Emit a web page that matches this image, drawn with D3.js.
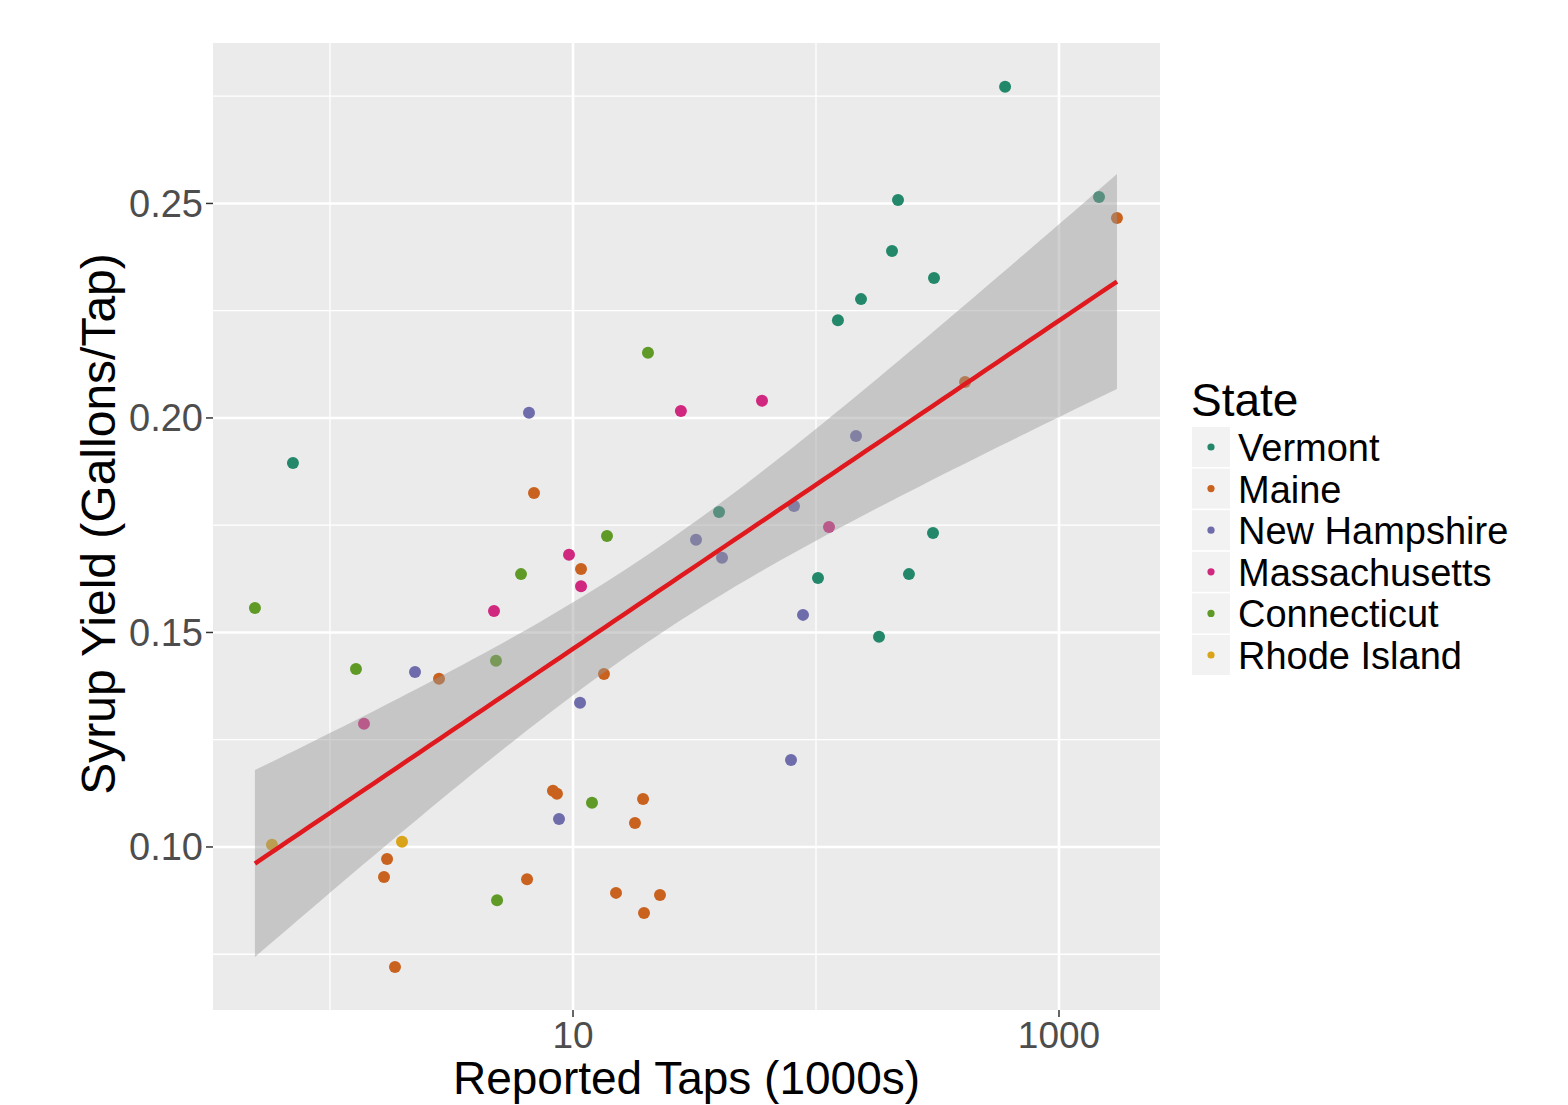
<!DOCTYPE html>
<html><head><meta charset="utf-8">
<script src="https://cdn.jsdelivr.net/npm/d3@7"></script>
<style>body{margin:0;background:#fff}svg{display:block}text{font-family:"Liberation Sans",Arial,sans-serif}</style>
</head><body>
<svg id="c" width="1568" height="1105"></svg>
<script>
// ---- data (Reported taps in 1000s, syrup yield gallons/tap) ----
const states = ["Vermont","Maine","New Hampshire","Massachusetts","Connecticut","Rhode Island"];
const colors = ["#23876a","#c9621f","#6f6cab","#d1287f","#5f9a26","#d9a31a"];
const vermontTaps  = [600,0.704,217.5,1461,205.5,305.9,153.2,123.1,39.9,303,101.9,241.3,181.7];
const vermontYield = [0.2772,0.1895,0.2508,0.2515,0.2389,0.2326,0.2277,0.2228,0.1781,0.1732,0.1627,0.1636,0.1490];
const maineTaps  = [1732,410.6,6.91,10.79,2.81,13.41,8.27,8.59,19.42,17.99,1.717,1.668,6.47,15.03,22.80,19.60,1.851];
const maineYield = [0.2466,0.2084,0.1825,0.1648,0.1392,0.1403,0.1131,0.1124,0.1112,0.1056,0.0972,0.0930,0.0925,0.0893,0.0888,0.0846,0.0720];
const nhTaps  = [6.59,146.1,81.2,32.08,41.04,88.4,2.238,10.69,78.9,8.76];
const nhYield = [0.2012,0.1958,0.1795,0.1716,0.1674,0.1541,0.1408,0.1336,0.1203,0.1065];
const maTaps  = [27.8,59.95,9.63,10.79,113.1,4.73,1.380];
const maYield = [0.2016,0.2040,0.1681,0.1608,0.1746,0.1550,0.1287];
const ctTaps  = [20.35,13.80,6.11,0.491,1.279,4.82,11.97,4.87];
const ctYield = [0.2152,0.1725,0.1636,0.1557,0.1415,0.1434,0.1103,0.0876];
const riTaps  = [0.577,1.978];
const riYield = [0.1005,0.1012];
const xTicks = [10,1000];
const xMinor = [1,100];
const yTicks = [0.10,0.15,0.20,0.25];
const yMinor = [0.075,0.125,0.175,0.225,0.275];
const xTitle = "Reported Taps (1000s)";
const yTitle = "Syrup Yield (Gallons/Tap)";
const legendTitle = "State";

const series = [
  [vermontTaps,vermontYield],[maineTaps,maineYield],[nhTaps,nhYield],
  [maTaps,maYield],[ctTaps,ctYield],[riTaps,riYield]
];
const pts = [];
series.forEach((s,i)=>s[0].forEach((t,j)=>pts.push({x:t,y:s[1][j],s:i})));

const svg = d3.select("#c");
const L=213,R=1160,T=43,B=1010;
const x = d3.scaleLog().domain([0.330,2604]).range([L,R]);
const y = d3.scaleLinear().domain([0.062,0.2874]).range([B,T]);

function txt(g,xp,yp,str,size,anchor,fill,rot){
  return g.append("text")
    .attr("transform",`translate(${xp},${yp})${rot?` rotate(${rot})`:""}`)
    .attr("font-size",size).attr("text-anchor",anchor).attr("fill",fill).text(str);
}

// panel
svg.append("rect").attr("x",L).attr("y",T).attr("width",R-L).attr("height",B-T).attr("fill","#ebebeb");
const grid = svg.append("g");
xMinor.forEach(v=>grid.append("line").attr("x1",x(v)).attr("x2",x(v)).attr("y1",T).attr("y2",B).attr("stroke","#fff").attr("stroke-width",1.3));
yMinor.forEach(v=>grid.append("line").attr("x1",L).attr("x2",R).attr("y1",y(v)).attr("y2",y(v)).attr("stroke","#fff").attr("stroke-width",1.3));
xTicks.forEach(v=>grid.append("line").attr("x1",x(v)).attr("x2",x(v)).attr("y1",T).attr("y2",B).attr("stroke","#fff").attr("stroke-width",2.6));
yTicks.forEach(v=>grid.append("line").attr("x1",L).attr("x2",R).attr("y1",y(v)).attr("y2",y(v)).attr("stroke","#fff").attr("stroke-width",2.6));

// points
svg.append("g").selectAll("circle").data(pts).join("circle")
  .attr("cx",d=>x(d.x)).attr("cy",d=>y(d.y)).attr("r",6).attr("fill",d=>colors[d.s]);

// linear fit on log10(x) with 95% CI (geom_smooth(method="lm"))
const lx = pts.map(d=>Math.log10(d.x)), ly = pts.map(d=>d.y);
const n = pts.length, mx = d3.mean(lx), my = d3.mean(ly);
let sxx=0,sxy=0; lx.forEach((v,i)=>{sxx+=(v-mx)*(v-mx);sxy+=(v-mx)*(ly[i]-my);});
const b = sxy/sxx, a = my-b*mx;
let sse=0; lx.forEach((v,i)=>{const r=ly[i]-(a+b*v);sse+=r*r;});
const s = Math.sqrt(sse/(n-2)), tq = 2.004;
const x0 = d3.min(lx), x1 = d3.max(lx);
const fit = d3.range(80).map(i=>{
  const v = x0+(x1-x0)*i/79, f=a+b*v, se=s*Math.sqrt(1/n+(v-mx)*(v-mx)/sxx);
  return {x:Math.pow(10,v),f,lo:f-tq*se,hi:f+tq*se};
});
svg.append("path").datum(fit).attr("fill","#999999").attr("fill-opacity",0.45)
  .attr("d",d3.area().x(d=>x(d.x)).y0(d=>y(d.lo)).y1(d=>y(d.hi)));
svg.append("path").datum(fit).attr("fill","none").attr("stroke","#e0191e").attr("stroke-width",4.5)
  .attr("d",d3.line().x(d=>x(d.x)).y(d=>y(d.f)));

// axes
const ax = svg.append("g");
yTicks.forEach(v=>{
  ax.append("line").attr("x1",L-7).attr("x2",L).attr("y1",y(v)).attr("y2",y(v)).attr("stroke","#333").attr("stroke-width",1.5);
  txt(ax,L-10,y(v)+13.5,d3.format(".2f")(v),38,"end","#4d4d4d");
});
xTicks.forEach(v=>{
  ax.append("line").attr("x1",x(v)).attr("x2",x(v)).attr("y1",B).attr("y2",B+7).attr("stroke","#333").attr("stroke-width",1.5);
  txt(ax,x(v),1048,d3.format("d")(v),37,"middle","#4d4d4d");
});
txt(ax,(L+R)/2,1094,xTitle,46,"middle","#000");
txt(ax,115,524,yTitle,48,"middle","#000",-90);

// legend
const lg = svg.append("g");
txt(lg,1191,416,legendTitle,46,"start","#000");
states.forEach((st,i)=>{
  const cy = 447+i*41.6;
  lg.append("rect").attr("x",1192).attr("y",cy-20).attr("width",38).attr("height",40).attr("fill","#f2f2f2");
  lg.append("circle").attr("cx",1211).attr("cy",cy).attr("r",3.6).attr("fill",colors[i]);
  txt(lg,1238,cy+14,st,38,"start","#000");
});
</script>
</body></html>
